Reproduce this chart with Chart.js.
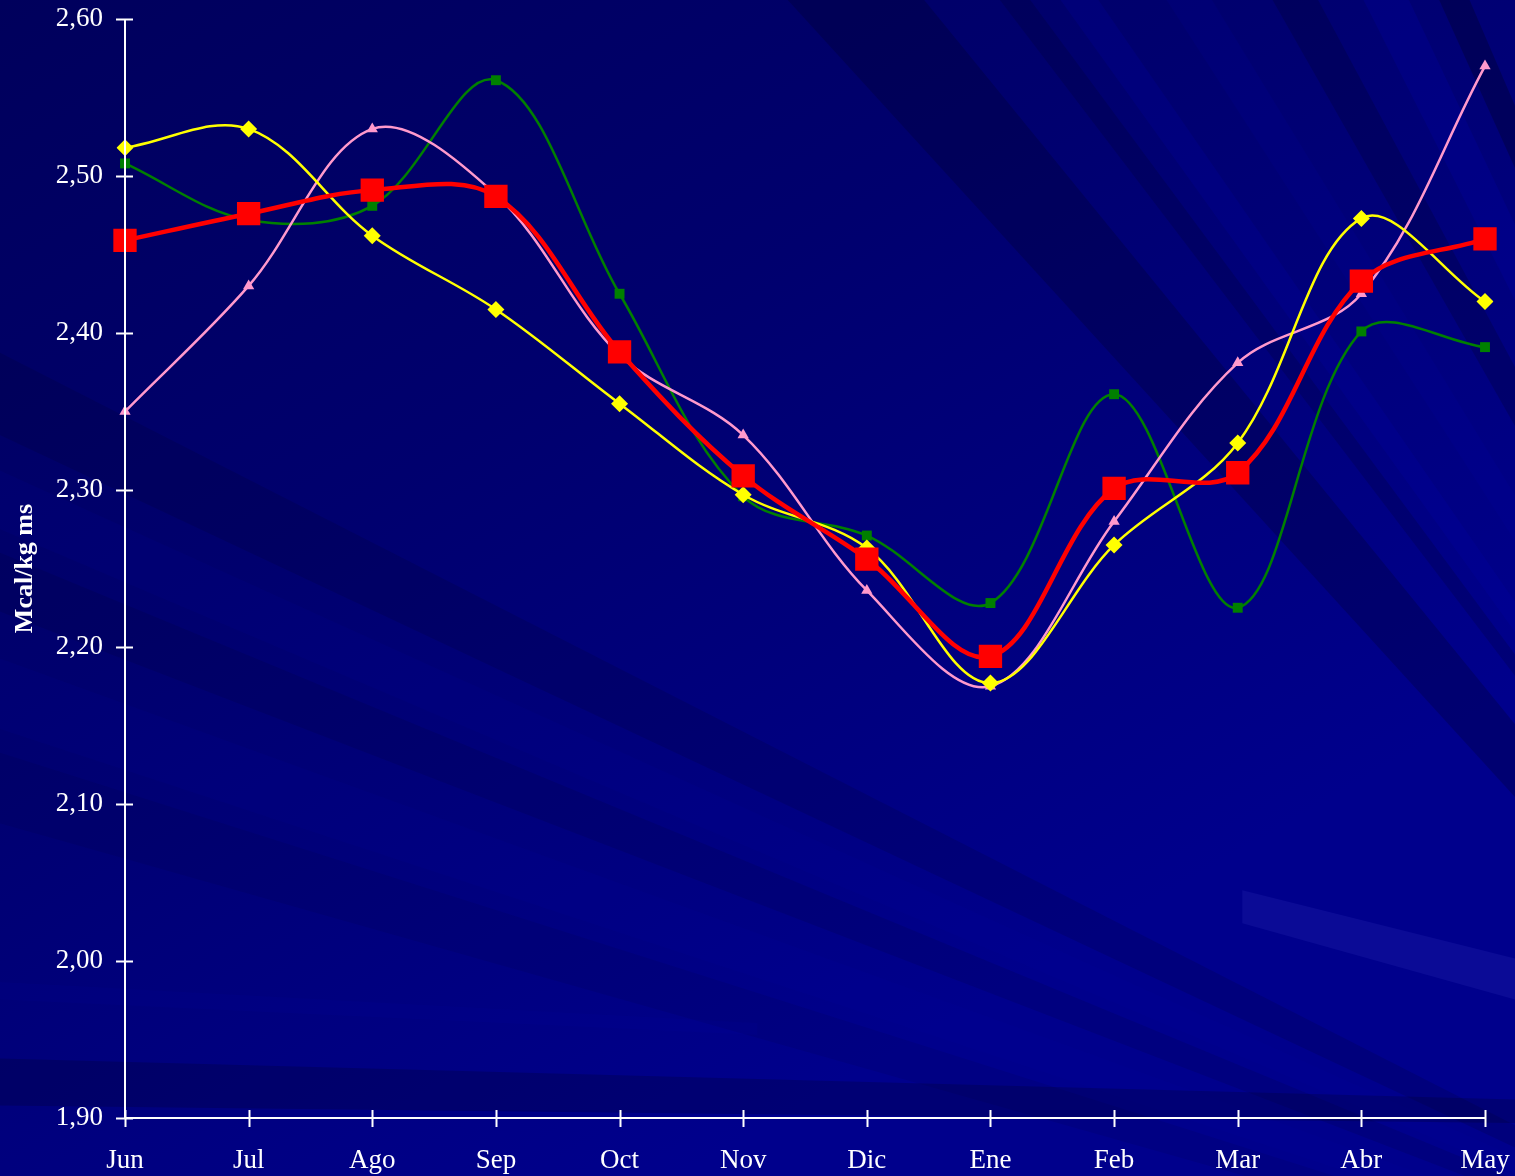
<!DOCTYPE html>
<html>
<head>
<meta charset="utf-8">
<script src="https://cdn.jsdelivr.net/npm/chart.js@4"></script>
<style>
  html, body { margin: 0; padding: 0; background: #000070; }
  #wrap { width: 1515px; height: 1176px; }
</style>
</head>
<body>
<div id="wrap"><canvas id="grafico"></canvas></div>
<script>
// meses y series (Mcal/kg ms)
const meses = ['Jun', 'Jul', 'Ago', 'Sep', 'Oct', 'Nov', 'Dic', 'Ene', 'Feb', 'Mar', 'Abr', 'May'];
const serieRojo = [2.459, 2.476, 2.491, 2.487, 2.388, 2.309, 2.256, 2.194, 2.301, 2.311, 2.433, 2.460];
const serieAmarillo = [2.518, 2.530, 2.462, 2.415, 2.355, 2.297, 2.263, 2.177, 2.265, 2.330, 2.473, 2.420];
const serieVerde = [2.508, 2.472, 2.481, 2.561, 2.425, 2.296, 2.271, 2.228, 2.361, 2.225, 2.401, 2.391];
const serieRosa = [2.350, 2.430, 2.530, 2.488, 2.386, 2.335, 2.236, 2.175, 2.280, 2.381, 2.425, 2.570];
const yMin = 1.9, yMax = 2.6, yPaso = 0.1;

// fondo azul con rayos que salen de abajo a la derecha
const fondo = {
  id: 'fondo',
  beforeDraw(chart) {
    const c = chart.ctx, W = chart.width, H = chart.height;
    c.save();
    const g = c.createLinearGradient(0, 0, W * 0.45, H);
    g.addColorStop(0, '#00005c');
    g.addColorStop(0.45, '#00006e');
    g.addColorStop(1, '#00008c');
    c.fillStyle = g;
    c.fillRect(0, 0, W, H);

    const fx = 1.37 * W, fy = 1.2 * H;
    const rayo = (a, b, col) => {
      const ext = (p) => {
        const dx = p[0] * W - fx, dy = p[1] * H - fy;
        return [fx + dx * 3, fy + dy * 3];
      };
      const p1 = ext(a), p2 = ext(b);
      c.beginPath();
      c.moveTo(fx, fy); c.lineTo(p1[0], p1[1]); c.lineTo(p2[0], p2[1]);
      c.closePath();
      c.fillStyle = col;
      c.fill();
    };
    // cortes en el borde izquierdo
    rayo([0, 0.30], [0, 0.37], 'rgba(0,0,30,0.14)');
    rayo([0, 0.40], [0, 0.45], 'rgba(0,0,170,0.10)');
    rayo([0, 0.47], [0, 0.52], 'rgba(0,0,30,0.12)');
    rayo([0, 0.56], [0, 0.62], 'rgba(0,0,170,0.10)');
    rayo([0, 0.64], [0, 0.70], 'rgba(0,0,30,0.08)');
    // cortes en el borde superior
    rayo([0.52, 0], [0.61, 0], 'rgba(0,0,30,0.24)');
    rayo([0.66, 0], [0.68, 0], 'rgba(0,0,30,0.18)');
    rayo([0.70, 0], [0.725, 0], 'rgba(0,0,180,0.18)');
    rayo([0.77, 0], [0.80, 0], 'rgba(0,0,170,0.12)');
    rayo([0.84, 0], [0.87, 0], 'rgba(0,0,30,0.22)');
    rayo([0.90, 0], [0.93, 0], 'rgba(0,0,180,0.20)');
    rayo([0.95, 0], [0.97, 0], 'rgba(0,0,30,0.30)');

    const poly = (pts, col) => {
      c.beginPath();
      pts.forEach((p, i) => i ? c.lineTo(p[0] * W, p[1] * H) : c.moveTo(p[0] * W, p[1] * H));
      c.closePath();
      c.fillStyle = col;
      c.fill();
    };
    // franja lavanda abajo a la derecha
    poly([[0.82, 0.757], [1, 0.815], [1, 0.85], [0.82, 0.785]], 'rgba(60,60,200,0.18)');
    // franja oscura junto al eje x
    poly([[0, 0.90], [1, 0.935], [1, 0.955], [0, 0.94]], 'rgba(0,0,30,0.22)');
    poly([[0, 0.835], [0.5, 0.87], [0.5, 0.88], [0, 0.85]], 'rgba(0,0,170,0.10)');
    c.restore();
  }
};

// marcas de eje que cruzan la línea (estilo Excel)
const marcas = {
  id: 'marcas',
  afterDraw(chart) {
    const c = chart.ctx, x = chart.scales.x, y = chart.scales.y;
    c.save();
    c.strokeStyle = '#ffffff';
    c.lineWidth = 2;
    c.beginPath();
    c.moveTo(x.left, y.top); c.lineTo(x.left, y.bottom); c.lineTo(x.right, y.bottom);
    y.ticks.forEach((t, i) => {
      const py = Math.round(y.getPixelForTick(i)) + 0.5;
      c.moveTo(x.left - 9, py); c.lineTo(x.left + 8, py);
    });
    x.ticks.forEach((t, i) => {
      const px = Math.round(x.getPixelForTick(i)) + 0.5;
      c.moveTo(px, y.bottom - 8); c.lineTo(px, y.bottom + 9);
    });
    c.stroke();
    c.restore();
  }
};

const serie = (data, color, estilo, radio, ancho) => ({
  data: data,
  borderColor: color,
  backgroundColor: color,
  pointBackgroundColor: color,
  pointBorderColor: color,
  pointStyle: estilo,
  pointRadius: radio,
  pointBorderWidth: 0,
  borderWidth: ancho,
  tension: 0.35,
  fill: false
});

new Chart(document.getElementById('grafico'), {
  type: 'line',
  data: {
    labels: meses,
    datasets: [
      serie(serieRojo, '#ff0000', 'rect', 16.5, 4.5),
      serie(serieAmarillo, '#ffff00', 'rectRot', 8.5, 2.5),
      serie(serieRosa, '#ff99cc', 'triangle', 6.5, 2.5),
      serie(serieVerde, '#008000', 'rect', 7, 2.5)
    ]
  },
  options: {
    responsive: true,
    maintainAspectRatio: false,
    animation: false,
    layout: { padding: { top: 19, right: 30, left: 0, bottom: 0 } },
    plugins: { legend: { display: false }, tooltip: { enabled: false } },
    scales: {
      x: {
        offset: false,
        grid: { display: false, drawTicks: false },
        border: { display: false },
        ticks: { color: '#ffffff', padding: 27, maxRotation: 0, font: { family: 'Liberation Serif', size: 27 } },
        afterFit: s => {
          s.height = 58;
          s.paddingLeft = 0; s.paddingRight = 0;
        }
      },
      y: {
        min: yMin,
        max: yMax,
        grid: { display: false, drawTicks: false },
        border: { display: false },
        ticks: {
          stepSize: yPaso,
          color: '#ffffff',
          padding: 22,
          font: { family: 'Liberation Serif', size: 27 },
          callback: v => v.toFixed(2).replace('.', ',')
        },
        title: {
          display: true,
          text: 'Mcal/kg ms',
          color: '#ffffff',
          font: { family: 'Liberation Serif', size: 26, weight: 'bold' },
          padding: { top: 10, bottom: 0 }
        },
        afterFit: s => {
          s.width = 125;
          s.paddingTop = 0; s.paddingBottom = 0;
        }
      }
    }
  },
  plugins: [fondo, marcas]
});
</script>
</body>
</html>
